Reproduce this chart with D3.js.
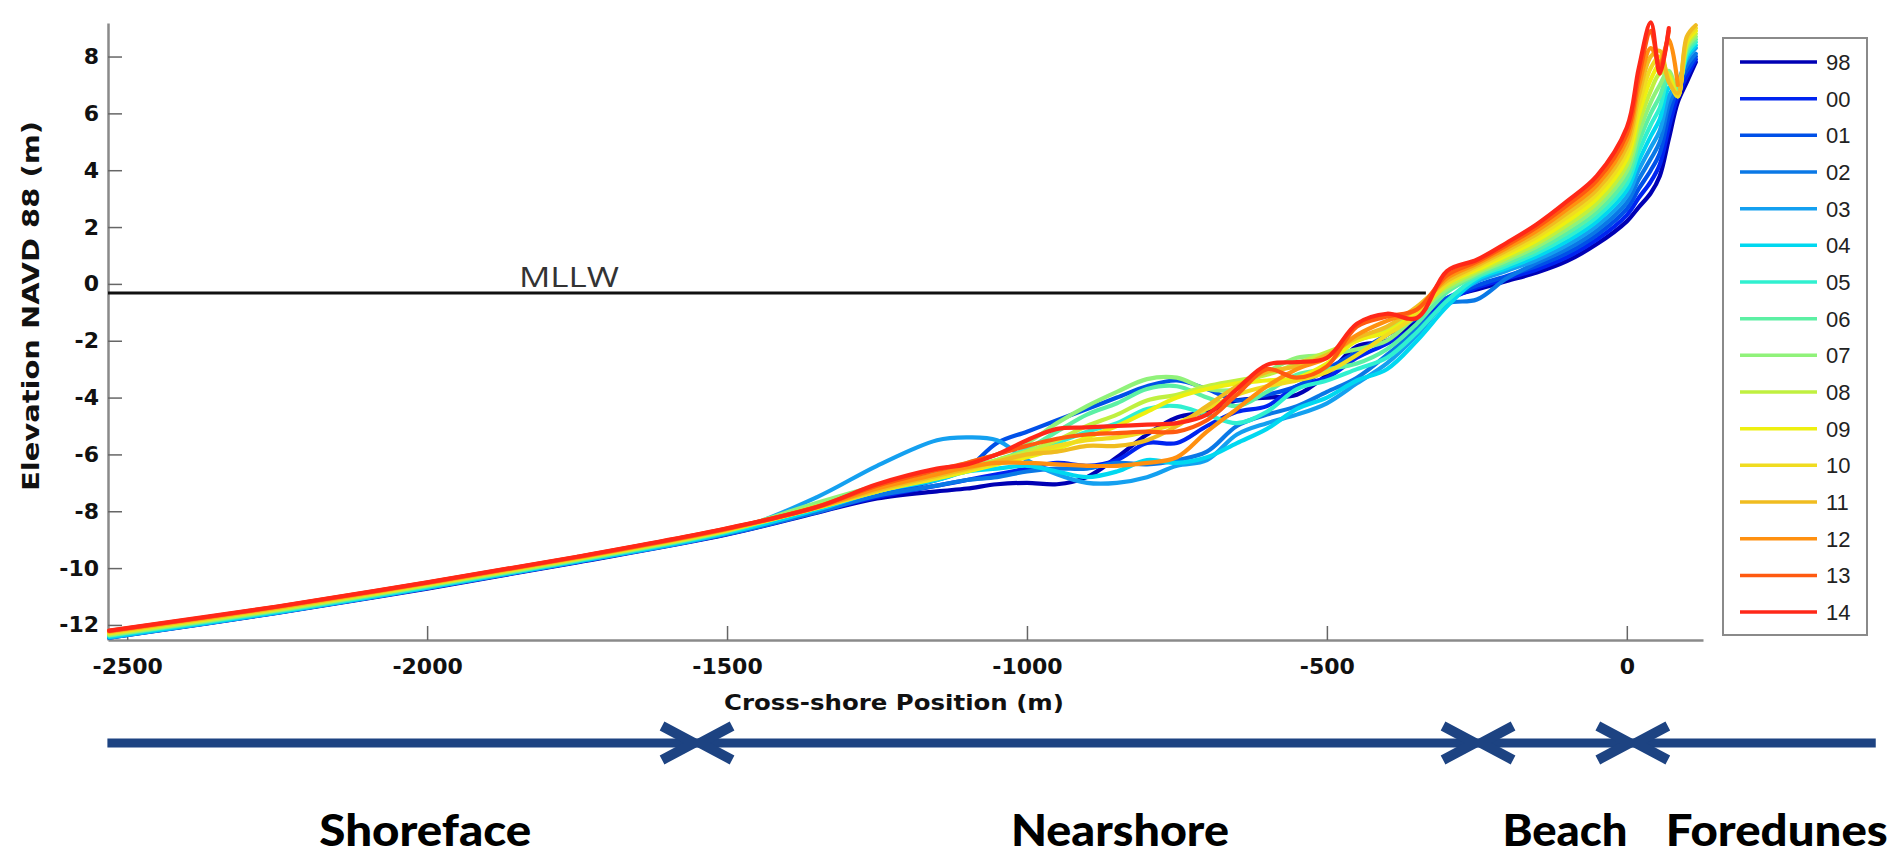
<!DOCTYPE html>
<html>
<head>
<meta charset="utf-8">
<script src="https://cdn.jsdelivr.net/npm/d3@7"></script>
<style>
body { margin: 0; background: #fff; }
svg { display: block; }
</style>
</head>
<body>
<svg id="chart" width="1902" height="867"></svg>
<script>

var xKnots = [-2530, -2250, -2000, -1750, -1500, -1350, -1250, -1150, -1100, -1050, -1000, -950, -900, -850, -800, -750,
  -700, -650, -600, -550, -500, -450, -400, -350, -300, -250, -200, -150, -100, -50, 0, 20, 40, 55, 70, 85, 100, 115];

// elevation NAVD 88 (m), one array per survey year
var p98 = [-12.45, -11.58, -10.72, -9.8, -8.82, -8.05, -7.55, -7.3, -7.2, -7.05, -7.0, -7.05, -6.8, -6.1, -5.3, -4.7,
  -4.5, -4.1, -4.0, -3.9, -3.2, -2.2, -2.0, -1.3, -0.5, -0.2, 0.1, 0.4, 0.8, 1.4, 2.2, 2.7, 3.2, 3.8, 5.1, 6.4, 7.1, 7.8];
var p00 = [-12.43, -11.56, -10.7, -9.78, -8.8, -8.02, -7.5, -7.1, -6.9, -6.7, -6.5, -6.3, -6.4, -6.2, -5.6, -5.6,
  -5.0, -4.5, -4.3, -3.6, -3.3, -2.6, -2.1, -1.5, -0.6, -0.13, 0.19, 0.51, 0.94, 1.56, 2.42, 3.03, 3.6, 4.2, 5.5, 6.6, 7.3, 7.9];
var p01 = [-12.42, -11.55, -10.68, -9.76, -8.78, -8.0, -7.4, -6.9, -6.5, -5.6, -5.2, -4.8, -4.4, -4.0, -3.6, -3.4,
  -3.7, -4.1, -3.9, -3.6, -3.0, -2.4, -1.8, -1.2, -0.5, -0.06, 0.28, 0.63, 1.08, 1.72, 2.64, 3.35, 4.0, 4.6, 5.9, 6.9, 7.5, 8.0];
var p02 = [-12.44, -11.57, -10.7, -9.78, -8.8, -8.03, -7.45, -7.1, -6.9, -6.8, -6.6, -6.5, -6.5, -6.3, -6.35, -6.2,
  -5.9, -5.0, -4.6, -4.3, -3.8, -3.3, -2.5, -1.6, -0.7, -0.55, 0.2, 0.74, 1.22, 1.88, 2.86, 3.68, 4.4, 5.0, 6.3, 7.0, 7.7, 8.1];
var p03 = [-12.45, -11.57, -10.7, -9.77, -8.75, -7.5, -6.4, -5.5, -5.4, -5.5, -6.2, -6.7, -7.0, -7.0, -6.8, -6.4,
  -6.2, -5.3, -4.9, -4.6, -4.2, -3.5, -2.8, -1.8, -0.6, 0.08, 0.46, 0.85, 1.36, 2.04, 3.08, 4.01, 4.8, 5.4, 6.6, 7.1, 7.9, 8.3];
var p04 = [-12.42, -11.55, -10.68, -9.76, -8.76, -7.95, -7.3, -6.9, -6.6, -6.5, -6.4, -6.6, -6.8, -6.6, -6.2, -6.3,
  -6.1, -5.6, -5.1, -4.4, -4.0, -3.4, -3.0, -2.0, -0.8, 0.15, 0.55, 0.97, 1.5, 2.2, 3.3, 4.33, 5.2, 5.8, 6.9, 7.0, 8.0, 8.4];
var p05 = [-12.38, -11.52, -10.65, -9.73, -8.72, -7.85, -7.3, -6.8, -6.6, -6.3, -6.0, -5.6, -5.2, -4.9, -4.4, -4.3,
  -4.6, -4.9, -4.5, -3.7, -3.4, -3.0, -2.6, -1.7, -0.6, 0.22, 0.64, 1.08, 1.64, 2.36, 3.52, 4.66, 5.6, 6.2, 7.2, 6.9, 8.1, 8.5];
var p06 = [-12.36, -11.5, -10.63, -9.72, -8.7, -7.75, -7.2, -6.7, -6.45, -6.2, -5.8, -5.2, -4.6, -4.2, -3.7, -3.6,
  -4.0, -4.3, -3.8, -3.2, -3.0, -2.8, -2.3, -1.4, -0.3, 0.29, 0.73, 1.19, 1.78, 2.52, 3.74, 4.99, 6.0, 6.6, 7.4, 6.8, 8.2, 8.6];
var p07 = [-12.35, -11.48, -10.6, -9.7, -8.68, -7.7, -7.1, -6.6, -6.3, -6.0, -5.6, -4.9, -4.3, -3.8, -3.35, -3.3,
  -3.7, -3.7, -3.1, -2.6, -2.5, -2.3, -2.0, -1.1, -0.2, 0.36, 0.82, 1.31, 1.92, 2.68, 3.96, 5.31, 6.4, 7.0, 7.5, 6.7, 8.3, 8.7];
var p08 = [-12.32, -11.46, -10.6, -9.68, -8.68, -7.82, -7.25, -6.8, -6.5, -6.2, -5.9, -5.5, -5.0, -4.6, -4.1, -3.9,
  -3.6, -3.4, -3.2, -2.8, -2.4, -2.0, -1.6, -0.9, -0.1, 0.43, 0.91, 1.42, 2.06, 2.84, 4.18, 5.64, 6.8, 7.4, 7.4, 6.6, 8.4, 8.8];
var p09 = [-12.28, -11.42, -10.56, -9.66, -8.66, -7.88, -7.3, -6.85, -6.6, -6.35, -6.1, -5.8, -5.4, -5.0, -4.5, -4.0,
  -3.7, -3.5, -3.4, -3.3, -2.8, -2.0, -1.7, -1.0, 0.0, 0.5, 1.0, 1.53, 2.2, 3.0, 4.4, 5.97, 7.2, 7.7, 7.3, 6.6, 8.5, 8.9];
var p10 = [-12.27, -11.41, -10.55, -9.65, -8.65, -7.88, -7.3, -6.8, -6.55, -6.3, -6.0, -5.7, -5.5, -5.4, -5.2, -4.9,
  -4.4, -3.9, -3.6, -3.4, -3.1, -2.5, -1.8, -1.1, 0.0, 0.57, 1.09, 1.65, 2.34, 3.16, 4.62, 6.29, 7.6, 8.0, 7.2, 6.6, 8.6, 9.0];
var p11 = [-12.25, -11.4, -10.54, -9.64, -8.64, -7.86, -7.25, -6.75, -6.5, -6.25, -6.0, -5.9, -5.7, -5.7, -5.5, -5.0,
  -4.3, -3.6, -3.1, -2.9, -2.5, -1.9, -1.5, -0.8, 0.1, 0.64, 1.18, 1.76, 2.48, 3.32, 4.84, 6.62, 8.0, 8.2, 7.1, 6.7, 8.7, 9.1];
var p12 = [-12.22, -11.37, -10.52, -9.62, -8.62, -7.86, -7.2, -6.7, -6.45, -6.3, -6.3, -6.35, -6.4, -6.4, -6.3, -6.1,
  -5.2, -4.4, -3.6, -3.0, -2.6, -1.8, -1.3, -0.9, 0.2, 0.71, 1.27, 1.87, 2.62, 3.48, 5.06, 6.95, 8.3, 7.8, 8.6, 7.0, null, null];
var p13 = [-12.21, -11.36, -10.51, -9.61, -8.61, -7.84, -7.1, -6.55, -6.3, -6.0, -5.7, -5.45, -5.3, -5.25, -5.2, -5.2,
  -4.8, -3.9, -3.0, -3.3, -2.9, -1.5, -1.15, -0.9, 0.3, 0.78, 1.36, 1.99, 2.76, 3.64, 5.28, 7.27, 8.9, 7.6, 8.9, null, null, null];
var p14 = [-12.2, -11.35, -10.5, -9.6, -8.6, -7.85, -7.05, -6.5, -6.35, -6.0, -5.5, -5.1, -5.05, -5.0, -4.95, -4.9,
  -4.6, -3.7, -2.85, -2.75, -2.6, -1.4, -1.05, -1.2, 0.45, 0.85, 1.45, 2.1, 2.9, 3.8, 5.5, 7.6, 9.2, 7.4, 9.0, null, null, null];

var years = ["98", "00", "01", "02", "03", "04", "05", "06", "07", "08", "09", "10", "11", "12", "13", "14"];
var profiles = [p98, p00, p01, p02, p03, p04, p05, p06, p07, p08, p09, p10, p11, p12, p13, p14];
var lineColors = ["#0000b4", "#0024f0", "#0050e8", "#0a78e6", "#14a0f0", "#00d8f0", "#30f0d0", "#5cf0a4",
  "#90f27a", "#c0f040", "#eef010", "#f0dc20", "#f0bc20", "#ff9010", "#ff5a10", "#ff2818"];

var yTicks = [-12, -10, -8, -6, -4, -2, 0, 2, 4, 6, 8];
var xTicks = [-2500, -2000, -1500, -1000, -500, 0];

var mllwLevel = -0.32;   // m
var mllwEnd = -335;      // where the line meets the profiles

var zoneBounds = [-2533, -1550, -248, 10, 415];
var zoneNames = ["Shoreface", "Nearshore", "Beach", "Foredunes"];
var zoneLabelX = [-2003, -845, -103, 250];

var svg = d3.select("#chart");
svg.append("rect").attr("width", 1902).attr("height", 867).attr("fill", "#fff");

var x = d3.scaleLinear().domain([-2532, 127]).range([108, 1703]);
var y = d3.scaleLinear().domain([-12.53, 9.18]).range([640, 23]);

// plain "-" and no thousands separator, like matlab
var plain = function(d) { return String(d); };

// axes (left + bottom only, ticks pointing in)
var yAxis = svg.append("g")
    .attr("transform", "translate(" + x.range()[0] + ",0)")
    .call(d3.axisLeft(y).tickValues(yTicks).tickFormat(plain).tickSizeInner(-14).tickSizeOuter(0).tickPadding(9));
var xAxis = svg.append("g")
    .attr("transform", "translate(0," + y.range()[0] + ")")
    .call(d3.axisBottom(x).tickValues(xTicks).tickFormat(plain).tickSizeInner(-14).tickSizeOuter(0).tickPadding(18));

[yAxis, xAxis].forEach(function(ax) {
  ax.select(".domain").attr("stroke", "#8a8a8a").attr("stroke-width", 2.5);
  ax.selectAll(".tick line").attr("stroke", "#666").attr("stroke-width", 1.5);
  ax.selectAll(".tick text")
      .attr("fill", "#111")
      .style("font-family", "'DejaVu Sans', sans-serif")
      .style("font-weight", "bold")
      .style("font-size", "22px");
});

// MLLW reference line
svg.append("line")
    .attr("x1", x.range()[0]).attr("x2", x(mllwEnd))
    .attr("y1", y(mllwLevel)).attr("y2", y(mllwLevel))
    .attr("stroke", "#111").attr("stroke-width", 3);
svg.append("text")
    .attr("x", x(-1847)).attr("y", y(mllwLevel) - 6)
    .attr("textLength", 100).attr("lengthAdjust", "spacingAndGlyphs")
    .attr("fill", "#333")
    .style("font-family", "'Open Sans', sans-serif")
    .style("font-size", "27px")
    .text("MLLW");

// profiles
var line = d3.line()
    .defined(function(d) { return d.v !== null; })
    .x(function(d) { return x(d.m); })
    .y(function(d) { return y(d.v); })
    .curve(d3.curveCatmullRom.alpha(0.5));

svg.append("g").selectAll("path")
    .data(profiles)
  .enter().append("path")
    .attr("fill", "none")
    .attr("stroke", function(d, i) { return lineColors[i]; })
    .attr("stroke-width", 4.2)
    .attr("stroke-linejoin", "round")
    .attr("stroke-linecap", "round")
    .attr("d", function(vals) {
      return line(vals.map(function(v, j) { return {m: xKnots[j], v: v}; }));
    });

// axis titles
svg.append("text")
    .attr("transform", "translate(31,306) rotate(-90) scale(1,1.3)")
    .attr("text-anchor", "middle").attr("dy", "0.35em")
    .attr("textLength", 370).attr("lengthAdjust", "spacingAndGlyphs")
    .attr("fill", "#111")
    .style("font-family", "'DejaVu Sans', sans-serif")
    .style("font-weight", "bold").style("font-size", "17px")
    .text("Elevation NAVD 88 (m)");
svg.append("text")
    .attr("x", 894).attr("y", 710)
    .attr("text-anchor", "middle")
    .attr("textLength", 340).attr("lengthAdjust", "spacingAndGlyphs")
    .attr("fill", "#111")
    .style("font-family", "'DejaVu Sans', sans-serif")
    .style("font-weight", "bold").style("font-size", "21px")
    .text("Cross-shore Position (m)");

// legend
var legend = svg.append("g");
legend.append("rect")
    .attr("x", 1723).attr("y", 38).attr("width", 144).attr("height", 597)
    .attr("fill", "#fff").attr("stroke", "#8a8a8a").attr("stroke-width", 2);
var item = legend.selectAll("g.item")
    .data(years)
  .enter().append("g")
    .attr("class", "item")
    .attr("transform", function(d, i) { return "translate(1740," + (62 + i * 36.67) + ")"; });
item.append("line")
    .attr("x1", 0).attr("x2", 77)
    .attr("stroke", function(d, i) { return lineColors[i]; })
    .attr("stroke-width", 3.5);
item.append("text")
    .attr("x", 86).attr("dy", "0.36em")
    .attr("fill", "#222")
    .style("font-family", "'Liberation Sans', Arial, sans-serif")
    .style("font-size", "22px")
    .text(function(d) { return d; });

// zone arrows underneath
var arrowY = 743, navy = "#1d4382";
svg.append("line")
    .attr("x1", x(zoneBounds[0])).attr("x2", x(zoneBounds[zoneBounds.length - 1]))
    .attr("y1", arrowY).attr("y2", arrowY)
    .attr("stroke", navy).attr("stroke-width", 9);

svg.append("g").selectAll("path")
    .data(zoneBounds.slice(1, -1))
  .enter().append("path")
    .attr("fill", "none")
    .attr("stroke", navy)
    .attr("stroke-width", 10)
    .attr("stroke-linejoin", "miter")
    .attr("d", function(b) {
      var cx = x(b);
      return "M" + (cx - 35) + "," + (arrowY - 17) + "L" + (cx - 3) + "," + arrowY + "L" + (cx - 35) + "," + (arrowY + 17) +
             "M" + (cx + 35) + "," + (arrowY - 17) + "L" + (cx + 3) + "," + arrowY + "L" + (cx + 35) + "," + (arrowY + 17);
    });

var zoneWidths = [212, 218, 125, 222];
svg.append("g").selectAll("text")
    .data(zoneNames)
  .enter().append("text")
    .attr("x", function(d, i) { return x(zoneLabelX[i]); })
    .attr("y", 846)
    .attr("text-anchor", "middle")
    .attr("textLength", function(d, i) { return zoneWidths[i]; })
    .attr("lengthAdjust", "spacingAndGlyphs")
    .attr("fill", "#000")
    .style("font-family", "Lato, 'Open Sans', sans-serif")
    .style("font-weight", "900")
    .style("font-size", "44px")
    .text(function(d) { return d; });

</script>
</body>
</html>
